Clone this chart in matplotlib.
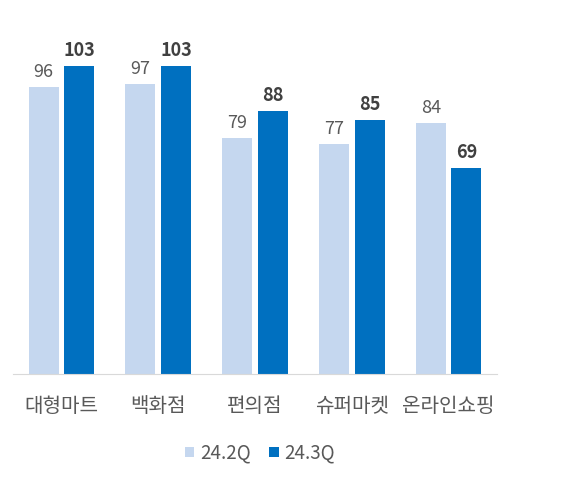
import numpy as np
import matplotlib.pyplot as plt

plt.rcParams['font.family'] = ['Noto Sans CJK KR', 'DejaVu Sans']

categories = ['대형마트', '백화점', '편의점', '슈퍼마켓', '온라인쇼핑']
series_names = ['24.2Q', '24.3Q']
q2_values = [96, 97, 79, 77, 84]
q3_values = [103, 103, 88, 85, 69]

light = '#C5D7EF'
dark = '#0070C0'

fig = plt.figure(figsize=(5.87, 4.83), dpi=100)
ax = fig.add_axes([13 / 587, 1 - 374 / 483, 484 / 587, 353 / 483])

x = np.arange(len(categories))
w = 0.31
off = 0.183
b1 = ax.bar(x - off, q2_values, w, color=light, label=series_names[0])
b2 = ax.bar(x + off, q3_values, w, color=dark, label=series_names[1])

for rect, v in zip(b1, q2_values):
    ax.annotate(str(v), (rect.get_x() + rect.get_width() / 2, v),
                xytext=(0, 4), textcoords='offset points', ha='center', va='bottom',
                fontsize=13, color='#595959')
for rect, v in zip(b2, q3_values):
    ax.annotate(str(v), (rect.get_x() + rect.get_width() / 2, v),
                xytext=(0, 4), textcoords='offset points', ha='center', va='bottom',
                fontsize=13, color='#404040', fontweight='bold')

ax.set_xlim(-0.5, 4.5)
ax.set_ylim(0, 118)
ax.set_xticks(x)
ax.set_xticklabels(categories, fontsize=14.5, color='#595959')
ax.tick_params(axis='x', length=0, pad=16)
ax.set_yticks([])
for s in ['top', 'right', 'left']:
    ax.spines[s].set_visible(False)
ax.spines['bottom'].set_color('#D9D9D9')

fig.legend(loc='center', bbox_to_anchor=(260 / 587, 1 - 453 / 483), ncol=2,
           frameon=False, fontsize=13.5, labelcolor='#595959',
           handlelength=0.5, handleheight=0.5, handletextpad=0.3, columnspacing=1.0)

fig.savefig('out.png', dpi=100, facecolor='white')
